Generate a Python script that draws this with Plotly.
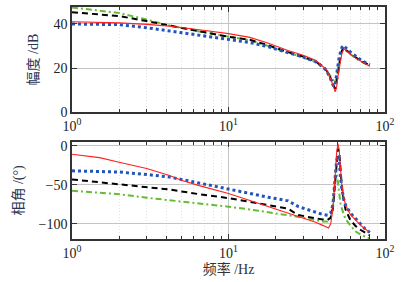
import plotly.graph_objects as go

# ---------------- data ----------------
mag_f = [1, 1.5, 2, 3, 4.2, 6.5, 8.8, 10, 13.7, 18, 24, 30, 36, 40, 42, 44, 45.5, 47, 48, 49, 50, 51, 52, 53, 54.5, 56, 60, 65, 70, 75, 80]
mag_red = [41.0, 40.8, 40.5, 39.8, 39.0, 37.4, 36.1, 35.6, 33.9, 31.2, 28.0, 25.8, 23.5, 21.0, 19.5, 16.5, 14.2, 11.5, 9.2, 11.0, 16.0, 20.0, 24.0, 26.5, 28.8, 28.0, 26.3, 24.5, 23.0, 21.9, 20.8]
mag_black = [45.3, 44.3, 43.6, 41.3, 39.2, 36.6, 34.9, 34.2, 32.8, 30.3, 27.2, 25.2, 23.0, 20.8, 19.2, 16.8, 14.5, 12.0, 10.5, 13.0, 18.0, 22.5, 25.5, 27.8, 29.3, 28.3, 26.6, 24.8, 23.3, 22.2, 21.2]
mag_green = [47.5, 46.0, 45.0, 42.0, 39.3, 36.6, 34.9, 34.1, 32.6, 30.0, 27.0, 25.0, 22.8, 20.6, 19.2, 17.2, 15.5, 13.8, 13.2, 16.0, 20.0, 23.5, 26.0, 27.5, 28.5, 28.0, 26.2, 24.4, 23.0, 21.9, 21.0]
mag_blue = [40.0, 39.9, 39.7, 38.3, 36.8, 34.9, 33.6, 33.0, 31.6, 29.6, 27.0, 25.0, 22.9, 20.6, 19.0, 16.5, 14.0, 11.6, 12.5, 16.0, 21.0, 25.0, 27.5, 29.3, 30.3, 29.3, 27.3, 25.3, 23.7, 22.5, 21.5]

ph_red_f = [1, 1.5, 2, 3, 4.2, 5, 6.5, 7.6, 8.8, 10, 13.7, 18, 24, 30, 36, 40, 42, 43.5, 45, 46.5, 48, 49, 50, 51, 52, 53, 54.5, 56, 60, 65, 70, 75, 80]
ph_red = [-10.6, -15, -21, -29, -38, -44, -51, -54.6, -57.5, -61, -70, -78, -86, -92, -98, -102, -104, -105.5, -100, -80, -40, -10, 3, -5, -30, -50, -66, -76, -88, -96, -102, -107, -111]

ph_blue_f = [1, 1.5, 2, 3, 4.2, 5, 6.5, 7.6, 8.8, 10, 13.7, 18, 24, 28, 32, 36, 40, 43, 45, 46.5, 48, 49, 50, 51, 52, 53, 54.5, 56, 60, 65, 70, 75, 80]
ph_blue = [-32, -32.5, -33.5, -36.7, -40, -43, -47.5, -50.4, -53, -55.5, -61, -66, -70.5, -78, -82, -85, -88, -89, -86, -75, -45, -20, -12, -18, -40, -55, -68, -76, -86, -94, -101, -107, -111]

ph_black_f = [1, 1.5, 2, 3, 4.2, 6.5, 8.8, 10, 13.7, 18, 22, 24, 26, 28, 32, 36, 40, 43, 45, 46.5, 48, 49, 50, 51, 52, 53, 54.5, 56, 60, 65, 70, 75, 80]
ph_black = [-43, -46.5, -49.5, -52.5, -56, -62, -65.5, -67, -71.8, -76, -80, -80.5, -85, -88.8, -91, -93, -94.5, -95, -92, -80, -45, -15, -3.5, -8, -30, -52, -70, -82, -95, -103, -108, -112, -115]

ph_green_f = [1, 1.5, 2, 3, 4.2, 6.5, 8.8, 10, 13.7, 18, 24, 30, 36, 40, 43, 45, 46.5, 47.5, 48.5, 49.5, 51, 52, 54.5, 56, 60, 65, 70, 75, 80]
ph_green = [-57.6, -60, -62, -66.5, -69.6, -73.5, -76.5, -78, -81.6, -85, -89, -92, -95, -97, -97, -93, -78, -50, -30, -38, -60, -75, -88, -94, -102, -110, -114, -117, -119]

x_tickvals = [1, 10, 100]
x_ticktext = ["10<sup>0</sup>", "10<sup>1</sup>", "10<sup>2</sup>"]
x_minor = [2, 3, 4, 5, 6, 7, 8, 9, 20, 30, 40, 50, 60, 70, 80, 90]
mag_ticks = [0, 20, 40]
ph_ticks = [-100, -50, 0]

RED = "#ff2020"
BLACK = "#000000"
GREEN = "#66bb33"
BLUE = "#2255bb"

FONT = "Liberation Serif, Noto Sans CJK SC, serif"

fig = go.Figure()

def add(x, y, color, dash, width, xa, ya):
    fig.add_trace(go.Scatter(x=x, y=y, mode="lines", xaxis=xa, yaxis=ya,
                             line=dict(color=color, dash=dash, width=width),
                             showlegend=False, hoverinfo="skip"))

# magnitude
add(mag_f, mag_green, GREEN, "6px,3px,2px,3px", 2, "x", "y")
add(mag_f, mag_black, BLACK, "6px,4px", 2, "x", "y")
add(mag_f, mag_blue, BLUE, "dot", 3, "x", "y")
add(mag_f, mag_red, RED, "solid", 1.1, "x", "y")
# phase
add(ph_green_f, ph_green, GREEN, "6px,3px,2px,3px", 2, "x2", "y2")
add(ph_black_f, ph_black, BLACK, "6px,4px", 2, "x2", "y2")
add(ph_blue_f, ph_blue, BLUE, "dot", 3, "x2", "y2")
add(ph_red_f, ph_red, RED, "solid", 1.1, "x2", "y2")

xcommon = dict(type="log", range=[0, 2], tickvals=x_tickvals, ticktext=x_ticktext,
               ticks="inside", ticklen=5, tickcolor="#333", mirror="ticks",
               showline=True, linecolor="#333", linewidth=1.5, automargin=False,
               showgrid=True, gridcolor="#c4c4c4", gridwidth=1,
               minor=dict(tickvals=x_minor, ticks="inside", ticklen=3, tickcolor="#333",
                          showgrid=True, gridcolor="#e2e2e2", griddash="1px,2px", gridwidth=1),
               tickfont=dict(family=FONT, size=14, color="#222"), zeroline=False)

ycommon = dict(ticks="inside", ticklen=5, tickcolor="#333", mirror="ticks",
               showline=True, linecolor="#333", linewidth=1.5, automargin=False,
               showgrid=True, gridcolor="#c4c4c4", gridwidth=1, zeroline=False,
               tickfont=dict(family=FONT, size=14, color="#222"))

fig.update_layout(
    width=414, height=282,
    margin=dict(l=72, r=29, t=7, b=43),
    plot_bgcolor="white", paper_bgcolor="white",
    xaxis=dict(domain=[0, 1], anchor="y", **xcommon),
    yaxis=dict(domain=[0.547, 1.0], anchor="x", range=[0, 47.7], tickvals=mag_ticks,
               title=dict(text="幅度 /dB", font=dict(family=FONT, size=14, color="#2b3553"), standoff=12),
               **ycommon),
    xaxis2=dict(domain=[0, 1], anchor="y2",
                title=dict(text="频率 /Hz", font=dict(family=FONT, size=14, color="#333"), standoff=2),
                **xcommon),
    yaxis2=dict(domain=[0.0, 0.419], anchor="x2", range=[-119.5, 5.3], tickvals=ph_ticks,
                title=dict(text="相角 /(°)", font=dict(family=FONT, size=14, color="#2b3553"), standoff=12),
                **ycommon),
)

fig.write_html("out.html", config={"displayModeBar": False},
               post_script="document.body.style.margin='0';document.body.style.overflow='hidden';")
